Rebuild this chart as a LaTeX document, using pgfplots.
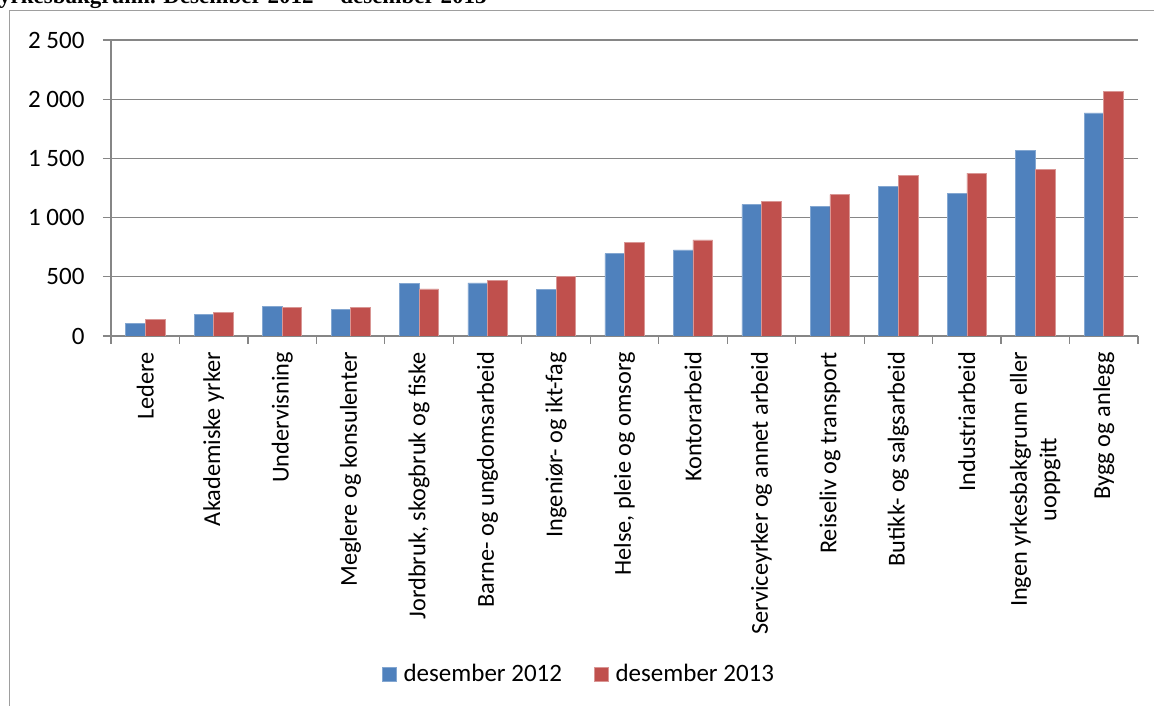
\documentclass[border=0pt]{standalone}
\usepackage{pgfplots}
\pgfplotsset{compat=1.18}
\usepackage{fontspec}
\setmainfont{Carlito}
\newfontfamily\titlefont{Liberation Serif}
\definecolor{xlblue}{RGB}{79,129,189}
\definecolor{xlred}{RGB}{192,80,77}
\definecolor{xlgrid}{RGB}{134,134,134}

\pgfplotstableread{
idx  d2012  d2013
0    107    138
1    183    197
2    247    239
3    225    242
4    443    397
5    449    471
6    392    500
7    695    791
8    728    812
9    1111   1136
10   1094   1195
11   1263   1359
12   1207   1376
13   1568   1410
14   1884   2068
}\ledige

\begin{document}
\begin{tikzpicture}
\useasboundingbox (0,0) rectangle (1154pt,706pt);
% frame of the page
\draw[xlgrid!80, line width=1pt] (9pt,-5pt) -- (9pt,695pt) -- (1160pt,695pt);
% title, cut at the top
\node[anchor=base west, inner sep=0pt,
      font=\titlefont\bfseries\fontsize{23}{27}\selectfont]
  at (-1pt,702pt) {yrkesbakgrunn. Desember 2012 -- desember 2013};
\begin{axis}[
  at={(111pt,370pt)}, anchor=south west,
  scale only axis, width=1027pt, height=296pt,
  ybar=0pt, bar width=19.57pt,
  xmin=-0.5, xmax=14.5, ymin=0, ymax=2500,
  axis lines*=left,
  axis line style={xlgrid, line width=1.2pt},
  ymajorgrids, grid style={xlgrid, line width=1.2pt},
  tick style={xlgrid, line width=1.2pt},
  tick align=outside, major tick length=8pt,
  ytick={0,500,...,2500},
  /pgf/number format/.cd, 1000 sep={\ }, assume math mode=true,
  /pgfplots/.cd,
  tick label style={font=\fontsize{25}{30}\selectfont, text=black},
  yticklabel style={xshift=-15pt},
  xtick={-0.5,0.5,...,14.5},
  xticklabels={},
  extra x ticks={0,...,14},
  extra x tick style={major tick length=0pt,
    xticklabel style={font=\fontsize{24.3}{29.5}\selectfont,
      yshift=-16pt, rotate=90, anchor=east, align=center, inner sep=0pt}},
  extra x tick labels={Ledere, Akademiske yrker, Undervisning,
    Meglere og konsulenter, {Jordbruk, skogbruk og fiske},
    Barne- og ungdomsarbeid, Ingeniør- og ikt-fag,
    {Helse, pleie og omsorg}, Kontorarbeid,
    Serviceyrker og annet arbeid, Reiseliv og transport,
    Butikk- og salgsarbeid, Industriarbeid,
    {Ingen yrkesbakgrunn eller\\uoppgitt}, Bygg og anlegg},
  legend style={at={(0.4557,-1.142)}, anchor=center, draw=none,
    font=\fontsize{25}{30}\selectfont, legend columns=2,
    /tikz/every odd column/.append style={column sep=5pt},
    /tikz/every even column/.append style={column sep=30pt}},
  legend image code/.code={\fill[#1] (0pt,-7pt) rectangle (14pt,7pt);},
]
\addplot[fill=xlblue, draw=xlblue!70!white, line width=0.6pt]
  table[x=idx, y=d2012] {\ledige};
\addplot[fill=xlred, draw=xlred!60!white, line width=0.6pt]
  table[x=idx, y=d2013] {\ledige};
\legend{desember 2012, desember 2013}
\end{axis}
\end{tikzpicture}
\end{document}
